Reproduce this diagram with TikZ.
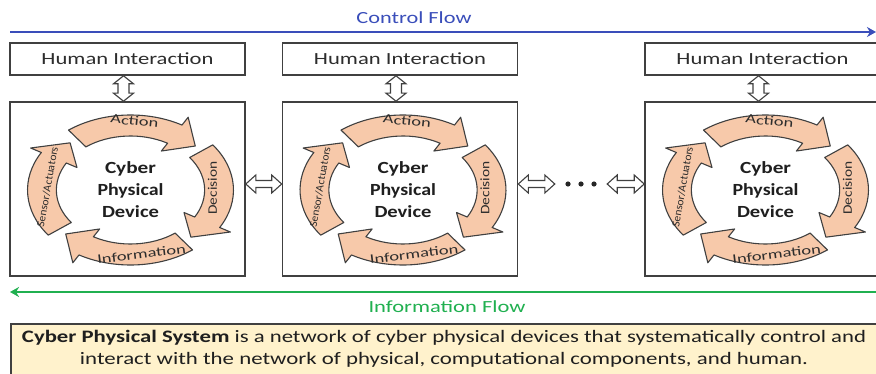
\documentclass[tikz,border=0pt]{standalone}
\usepackage{fontspec}
\setmainfont{Carlito}
\usepackage{graphicx}
\usetikzlibrary{arrows.meta,calc}

\definecolor{ctrlblue}{RGB}{58,78,186}
\definecolor{infogreen}{RGB}{32,176,80}
\definecolor{peach}{RGB}{247,201,170}
\definecolor{edgegray}{RGB}{64,64,64}
\definecolor{notefill}{RGB}{255,242,204}
\definecolor{inkgray}{RGB}{45,45,45}

% set a text at a given width, keeping its height
\newsavebox\fitbox
\newcommand\fitw[2]{\sbox\fitbox{#2}\resizebox{#1}{\ht\fitbox}{\usebox\fitbox}}

% one curved arrow of the cycle, centred on angle #1 (clockwise)
\newcommand\ringarrow[1]{%
  \draw[ringarr] (#1+37:75) arc[start angle=#1+37, end angle=#1-30, radius=75]
    -- (#1-30:84) -- (#1-47:64.5) -- (#1-30:45) -- (#1-30:54)
    arc[start angle=#1-30, end angle=#1+37, radius=54] -- cycle;}

% horizontal double block arrow between two points
\newcommand\hdarrow[2]{%
  \draw[blockarr] let \p1=#1, \p2=#2 in
    (\x1,\y1) -- (\x1+10pt,\y1+9pt) -- (\x1+10pt,\y1+3.5pt) -- (\x2-10pt,\y1+3.5pt)
    -- (\x2-10pt,\y1+9pt) -- (\x2,\y1) -- (\x2-10pt,\y1-9pt) -- (\x2-10pt,\y1-3.5pt)
    -- (\x1+10pt,\y1-3.5pt) -- (\x1+10pt,\y1-9pt) -- cycle;}

% vertical double block arrow between two points
\newcommand\vdarrow[2]{%
  \draw[blockarr] let \p1=#1, \p2=#2 in
    (\x1,\y1) -- (\x1+10pt,\y1-8pt) -- (\x1+5.5pt,\y1-8pt) -- (\x1+5.5pt,\y2+8pt)
    -- (\x1+10pt,\y2+8pt) -- (\x1,\y2) -- (\x1-10pt,\y2+8pt) -- (\x1-5.5pt,\y2+8pt)
    -- (\x1-5.5pt,\y1-8pt) -- (\x1-10pt,\y1-8pt) -- cycle;}

% a device: human interaction box, device box with its cycle and labels
\newcommand\device[2]{%
  \node[hbox] (#1-hi) at ($#2+(0,130)$) {\fitw{172pt}{Human Interaction}};
  \node[devbox] (#1) at #2 {};
  \coordinate (#1-c) at ($(#1.center)+(3,-1)$);
  \begin{scope}[shift={(#1-c)}, xscale=1.373]
    \ringarrow{90}\ringarrow{0}\ringarrow{-90}\ringarrow{180}
  \end{scope}
  \node[cpdtext] (#1-t) at (#1-c)
    {\fitw{51pt}{Cyber}\\\fitw{66pt}{Physical}\\\fitw{57pt}{Device}};
  \node[ringlabel, rotate=-6] (#1-act) at ($(#1-c)+(4,69)$) {\fitw{48pt}{Action}};
  \node[ringlabel, rotate=90] (#1-dec) at ($(#1-c)+(82,2)$) {\fitw{53pt}{Decision}};
  \node[ringlabel, rotate=7] (#1-inf) at ($(#1-c)+(11,-64)$) {\fitw{89pt}{Information}};
  \node[ringlabel, font=\fontsize{11}{13}\selectfont, rotate=80] (#1-sen)
    at ($(#1-c)+(-83,3)$) {\fitw{81pt}{Sensor/Actuators}};
  \vdarrow{($(#1-hi.south)+(-4,0)$)}{($(#1.north)+(-4,0)$)}
}

\begin{document}
\begin{tikzpicture}[x=1pt, y=1pt,
  hbox/.style={draw=edgegray, line width=1.6pt, fill=white, minimum width=235pt,
    minimum height=32pt, inner sep=0pt, text=inkgray, font=\fontsize{17}{20}\selectfont},
  devbox/.style={draw=edgegray, line width=1.6pt, fill=white, minimum width=235pt,
    minimum height=174pt, inner sep=0pt},
  ringarr/.style={draw=edgegray, line width=1.1pt, fill=peach, line join=round},
  blockarr/.style={draw=edgegray, line width=1.1pt, fill=white},
  ringlabel/.style={inner sep=0pt, text=inkgray, font=\fontsize{13}{15}\selectfont},
  cpdtext/.style={inner sep=0pt, align=center, text=black!88,
    font=\bfseries\fontsize{17}{22}\selectfont},
  flowlabel/.style={inner sep=0pt, font=\fontsize{17}{20}\selectfont},
  notetext/.style={inner sep=0pt, text=black!88, font=\fontsize{17.5}{21}\selectfont}]

\useasboundingbox (0,0) rectangle (876,373);
\clip (0,0) rectangle (876,373);
\fill[white] (0,0) rectangle (876,373);

% control flow along the top
\coordinate (cf-a) at (10,341);
\coordinate (cf-b) at (876,341);
\draw[ctrlblue, line width=2.4pt, -{Stealth[length=9pt,width=10pt]}] (cf-a) -- (cf-b);
\node[flowlabel, text=ctrlblue] (cf-lbl) at (414,355) {\fitw{115pt}{Control Flow}};

% the three devices
\device{dev1}{(127.5,184)}
\device{dev2}{(400,184)}
\device{dev3}{(762.5,184)}

% links between devices
\node[minimum width=52pt, minimum height=10pt, inner sep=0pt] (dots) at (581,189) {};
\foreach \dx in {-13,0,13} \fill[black!85] ($(dots.center)+(\dx,0)$) circle (2.6);
\hdarrow{($(dev1.east)+(0,5)$)}{($(dev2.west)+(0,5)$)}
\hdarrow{($(dev2.east)+(0,5)$)}{(dots.west)}
\hdarrow{(dots.east)}{($(dev3.west)+(0,5)$)}

% information flow along the bottom
\coordinate (if-a) at (10,81);
\coordinate (if-b) at (876,81);
\draw[infogreen, line width=2.4pt, {Stealth[length=9pt,width=10pt]}-] (if-a) -- (if-b);
\node[flowlabel, text=infogreen] (if-lbl) at (447,66) {\fitw{157pt}{Information Flow}};

% definition note
\node[draw=edgegray, line width=1.8pt, fill=notefill, anchor=north west,
  minimum width=890pt, minimum height=70pt] (note) at (10,50) {};
\node[notetext] (note-l1) at (444,35)
  {\fitw{844pt}{\textbf{Cyber Physical System} is a network of cyber physical devices that systematically control and}};
\node[notetext] (note-l2) at (444,13)
  {\fitw{728pt}{interact with the network of physical, computational components, and human.}};
\end{tikzpicture}
\end{document}
